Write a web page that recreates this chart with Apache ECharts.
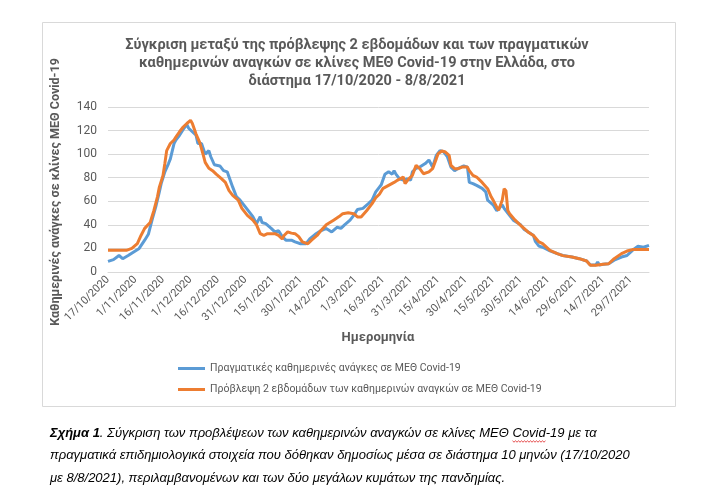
<!DOCTYPE html>
<html>
<head>
<meta charset="utf-8">
<script src="https://cdn.jsdelivr.net/npm/echarts@6/dist/echarts.min.js"></script>
<style>
  html, body { margin: 0; padding: 0; background: #fff; }
  #chart { width: 710px; height: 487px; }
</style>
</head>
<body>
<div id="chart"></div>
<script>
// ημέρες από 17/10/2020 (ημέρα 0) έως 8/8/2021 (ημέρα 295)
var tickLabels = ['17/10/2020','1/11/2020','16/11/2020','1/12/2020','16/12/2020','31/12/2020',
    '15/1/2021','30/1/2021','14/2/2021','1/3/2021','16/3/2021','31/3/2021','15/4/2021',
    '30/4/2021','15/5/2021','30/5/2021','14/6/2021','29/6/2021','14/7/2021','29/7/2021'];

var seriesNames = ['Πραγματικές καθημερινές ανάγκες σε ΜΕΘ Covid-19',
    'Πρόβλεψη 2 εβδομάδων των καθημερινών αναγκών σε ΜΕΘ Covid-19'];

// πραγματικές ανάγκες (μπλε)
var actualDays = [0,3,6,8,11,14,17,20,22,24,26,28,29,31,33,34,36,37,39,41,43,44,46,48,49,51,53,55,56,58,
    61,63,65,68,70,72,75,77,79,81,83,84,86,89,91,93,95,97,100,102,103,105,106,108,110,113,116,117,119,122,
    125,127,129,132,134,136,139,142,144,146,148,149,151,153,155,156,157,159,161,163,165,166,168,170,173,175,177,179,181,183,
    185,187,189,191,194,196,197,199,201,204,206,207,210,212,213,215,216,218,221,225,227,230,232,233,235,237,241,245,248,253,
    257,261,263,266,267,268,270,273,276,280,283,286,289,292,295];
var actualValues = [9,10.5,14,11.3,14,17,20,27,32,44,55,68,75,85,92,96,109,112,116,121,125,122,119,116,109,109,100,103,98,91,
    90,86,85,72,64,61,55,51,47,41,47,42,41,37,34,35,30,27,27,25.5,27,24,23,24,28,32,35,34,37,34,
    38,37,40,44,48,53,54,58,61,68,72,74,83,85,83,86,83,79,78,79,78,85,88,89,92,95,89,99,103,102,
    98,89,86,88,90,89,76,75,73.5,71,68,61,57,52,51,57,54,50,44,40,36,33,31,26,22,21,18,15.6,14,12.7,
    11.3,9.3,6,6,8.5,6,6.5,7,10,12.7,14,18.4,21.8,21,22.6];

// πρόβλεψη 2 εβδομάδων (πορτοκαλί)
var forecastDays = [0,10,13,16,18,20,23,25,27,28,30,31,32,34,36,37,39,41,43,45,46,48,50,52,53,55,57,59,62,64,
    66,68,71,73,76,79,81,83,85,87,91,93,95,96,98,100,102,104,106,107,109,111,114,116,119,123,126,128,131,134,
    136,138,141,144,146,148,150,153,156,158,161,162,164,166,168,170,172,175,177,179,180,182,184,186,187,189,191,193,196,197,
    199,201,204,207,209,210,212,213,215,216,217,218,219,222,225,227,229,232,235,237,241,245,248,253,257,261,263,266,270,273,
    276,280,283,286,289,292,295];
var forecastValues = [18.4,18.4,20,24,31,37,42,52,64,72,82,92,103,109,112,114.5,119,123,126,128.7,126,117,110,99,93,88,86,83,79,76,
    69,65,61,54,48,44,40,32.5,31,32.5,32.5,31,28,31,34,33,32.5,30,25.5,24,24,27,31,35,40,44,47,49.5,50.3,49.5,
    46.7,46.7,52,58,63,66,71,73.5,76,78,80.6,75,79,82,90.5,87.7,83.4,85,87.7,96,100.4,102.7,101.8,99,90.5,87.7,87.7,89,89,86,
    82,80.6,76,70.7,63.6,61,55,52.3,61,70.7,69,52.3,49.5,44,39.6,36.8,34,31,25.5,24,18.4,15.6,13.9,12.7,11.3,9.3,5.7,5.7,6.5,7,
    11.3,15.6,17.8,19,19,19,19];

var textGray = '#595959';
var titleText = 'Σύγκριση μεταξύ της πρόβλεψης 2 εβδομάδων και των πραγματικών\nκαθημερινών αναγκών σε κλίνες ΜΕΘ Covid-19 στην Ελλάδα, στο\nδιάστημα 17/10/2020 - 8/8/2021';
var captionLines = [
    ['Σχήμα 1', '. Σύγκριση των προβλέψεων των καθημερινών αναγκών σε κλίνες ΜΕΘ ', 'Covid', '-19 με τα'],
    'πραγματικά επιδημιολογικά στοιχεία που δόθηκαν δημοσίως μέσα σε διάστημα 10 μηνών (17/10/2020',
    'με 8/8/2021), περιλαμβανομένων και των δύο μεγάλων κυμάτων της πανδημίας.'
];

function pairs(days, values) {
    return days.map(function (d, i) { return [d, values[i]]; });
}

// μέτρηση κειμένου για την κυματιστή υπογράμμιση της λέξης Covid
var captionFont = 'italic 13px "Liberation Sans"';
var captionBold = 'italic bold 13px "Liberation Sans"';
var ctx = document.createElement('canvas').getContext('2d');
ctx.font = captionBold;
var wBold = ctx.measureText(captionLines[0][0]).width;
ctx.font = captionFont;
var wPre = ctx.measureText(captionLines[0][1]).width;
var wCovid = ctx.measureText(captionLines[0][2]).width;
var capX = 50, capY = 433;
var wavyStart = capX + wBold + wPre;
var wavyPts = [];
for (var k = 0; k <= Math.round(wCovid / 1.5); k++) {
    wavyPts.push([wavyStart + k * 1.5, capY + 8 + (k % 2 ? 1.2 : -0.2)]);
}

var myChart = echarts.init(document.getElementById('chart'));

var option = {
    backgroundColor: '#fff',
    color: ['#5B9BD5', '#ED7D31'],
    animation: false,
    legend: {
        orient: 'vertical',
        left: 173,
        top: 357,
        icon: 'rect',
        itemWidth: 27,
        itemHeight: 3,
        itemGap: 8,
        textStyle: { color: textGray, fontSize: 10.5, fontFamily: 'Roboto', lineHeight: 13 },
        data: seriesNames
    },
    grid: { left: 108, right: 61, top: 107, bottom: 215 },
    xAxis: {
        type: 'value',
        min: 0,
        max: 295,
        interval: 15,
        axisLine: { show: true, lineStyle: { color: '#D9D9D9', width: 1 } },
        axisTick: { show: false },
        splitLine: { show: false },
        axisLabel: {
            rotate: 45,
            margin: 6,
            color: textGray,
            fontSize: 11,
            fontFamily: 'Roboto',
            showMaxLabel: false,
            formatter: function (v) {
                var t = tickLabels[v / 15];
                return t === undefined ? '' : t;
            }
        }
    },
    yAxis: {
        type: 'value',
        min: 0,
        max: 140,
        interval: 20,
        axisLine: { show: false },
        axisTick: { show: false },
        axisLabel: { color: textGray, fontSize: 12, fontFamily: 'Roboto', margin: 11 },
        splitLine: { lineStyle: { color: '#D9D9D9', width: 1 } }
    },
    graphic: [
        {
            type: 'rect',
            shape: { x: 42.5, y: 22.5, width: 633, height: 384 },
            style: { fill: 'none', stroke: '#D9D9D9', lineWidth: 1 },
            silent: true
        },
        {
            type: 'text',
            x: 357, y: 63,
            style: {
                text: titleText,
                fill: textGray,
                font: 'bold 14.5px Roboto',
                lineHeight: 18,
                align: 'center',
                verticalAlign: 'middle'
            }
        },
        {
            type: 'text',
            x: 56, y: 192,
            rotation: Math.PI / 2,
            style: {
                text: 'Καθημερινές ανάγκες σε κλίνες ΜΕΘ Covid-19',
                fill: textGray,
                font: 'bold 12.5px Roboto',
                align: 'center',
                verticalAlign: 'middle'
            }
        },
        {
            type: 'text',
            x: 378, y: 338,
            style: {
                text: 'Ημερομηνία',
                fill: textGray,
                font: 'bold 13px Roboto',
                align: 'center',
                verticalAlign: 'middle'
            }
        },
        {
            type: 'text',
            x: capX, y: capY,
            style: {
                text: '{b|' + captionLines[0][0] + '}' + captionLines[0][1] + captionLines[0][2] + captionLines[0][3],
                fill: '#000',
                font: captionFont,
                verticalAlign: 'middle',
                rich: { b: { fontWeight: 'bold', fontStyle: 'italic', fontSize: 13, fontFamily: 'Liberation Sans', fill: '#000' } }
            }
        },
        {
            type: 'polyline',
            shape: { points: wavyPts },
            style: { stroke: '#E02020', lineWidth: 0.8, fill: 'none' },
            silent: true
        },
        {
            type: 'text',
            x: capX, y: 455,
            style: { text: captionLines[1], fill: '#000', font: captionFont, verticalAlign: 'middle' }
        },
        {
            type: 'text',
            x: capX, y: 478,
            style: { text: captionLines[2], fill: '#000', font: captionFont, verticalAlign: 'middle' }
        }
    ],
    series: [
        {
            name: seriesNames[0],
            type: 'line',
            symbol: 'none',
            lineStyle: { width: 3 },
            data: pairs(actualDays, actualValues)
        },
        {
            name: seriesNames[1],
            type: 'line',
            symbol: 'none',
            lineStyle: { width: 3 },
            data: pairs(forecastDays, forecastValues)
        }
    ]
};

myChart.setOption(option);
</script>
</body>
</html>
